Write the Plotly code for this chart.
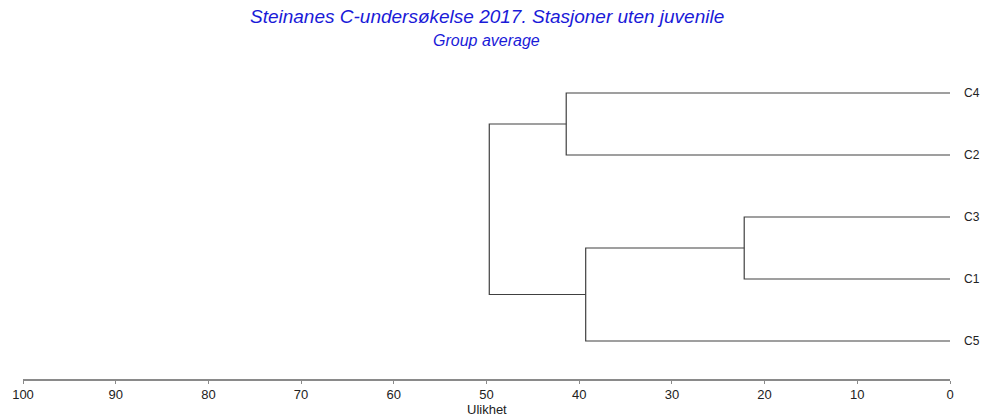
import plotly.graph_objects as go

# Leaves, top to bottom
leaves = ["C4", "C2", "C3", "C1", "C5"]
# Merges: (left cluster, right cluster, dissimilarity), in order of merging
merge_left = ["C3", "C4", "C3+C1", "C4+C2"]
merge_right = ["C1", "C2", "C5", "C3+C1+C5"]
merge_height = [22.2, 41.4, 39.3, 49.7]
x_ticks = [100, 90, 80, 70, 60, 50, 40, 30, 20, 10, 0]

title_main = "Steinanes C-undersøkelse 2017. Stasjoner uten juvenile"
title_sub = "Group average"
x_title = "Ulikhet"

FONT = "Arial, Liberation Sans, sans-serif"
H = 379.0  # pixel y of the x-axis line

# node positions: (x, y)
pos = {name: (0.0, i) for i, name in enumerate(leaves)}
xs, ys = [], []
for a, b, h in zip(merge_left, merge_right, merge_height):
    xa, ya = pos[a]
    xb, yb = pos[b]
    xs += [xa, h, h, xb, None]
    ys += [ya, ya, yb, yb, None]
    pos[a + "+" + b] = (h, (ya + yb) / 2)

fig = go.Figure()
fig.add_trace(go.Scatter(x=xs, y=ys, mode="lines",
                         line=dict(color="#404040", width=1.2),
                         hoverinfo="skip", showlegend=False, cliponaxis=False))

for i, name in enumerate(leaves):
    fig.add_annotation(x=0, y=i, xref="x", yref="y", text=name,
                       showarrow=False, xanchor="left", xshift=12,
                       font=dict(family=FONT, size=12, color="#222"))

fig.add_annotation(x=0.5, y=1 - 17 / H, xref="paper", yref="paper", text="<i>" + title_main + "</i>",
                   showarrow=False, yanchor="middle",
                   font=dict(family=FONT, size=19, color="#1a1ad8"))
fig.add_annotation(x=0.5, y=1 - 40 / H, xref="paper", yref="paper", text="<i>" + title_sub + "</i>",
                   showarrow=False, yanchor="middle",
                   font=dict(family=FONT, size=16, color="#1a1ad8"))
fig.add_annotation(x=50, y=-(409.5 - H) / H, xref="x", yref="paper", text=x_title,
                   showarrow=False, yanchor="middle",
                   font=dict(family=FONT, size=13, color="#222"))

fig.update_layout(
    width=981, height=418,
    margin=dict(l=22.7, r=31, t=0, b=418 - H, autoexpand=False),
    paper_bgcolor="white", plot_bgcolor="white",
    font=dict(family=FONT, size=13, color="#222"),
    xaxis=dict(range=[100, 0], tickvals=x_ticks, ticktext=[str(t) for t in x_ticks],
               showline=True, linecolor="#8a8a8a", linewidth=1.5,
               ticks="outside", ticklen=3, tickcolor="#8a8a8a", tickwidth=1.2,
               showgrid=False, zeroline=False, automargin=False,
               tickfont=dict(family=FONT, size=13, color="#222")),
    yaxis=dict(range=[(H - 93) / 62, -93 / 62], visible=False, showgrid=False, zeroline=False),
)

fig.write_html("out.html", config={"displayModeBar": False},
               post_script="document.body.style.margin='0';document.body.style.overflow='hidden';")
